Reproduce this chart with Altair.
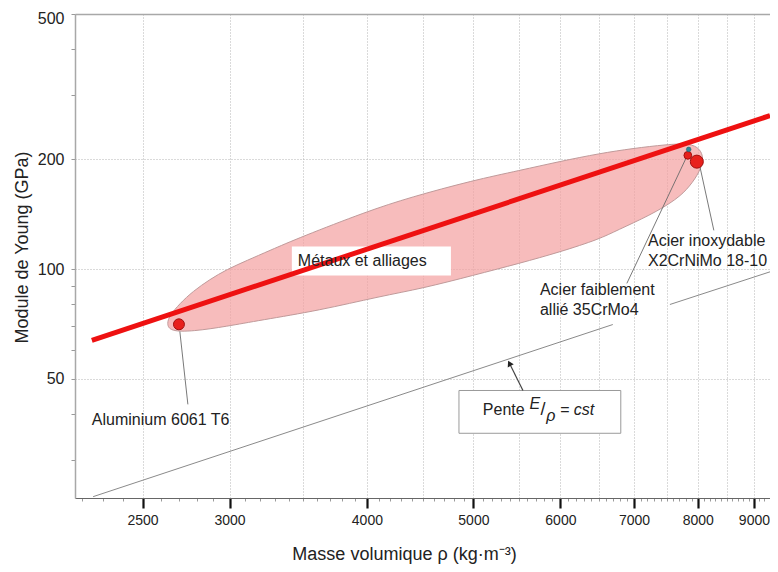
import altair as alt
import pandas as pd

# ---------------- axes ----------------
rho_domain = [2170, 9308]
E_domain = [23.6, 500]
x_major = [2500, 3000, 4000, 5000, 6000, 7000, 8000, 9000]
y_major = [50, 100, 200, 500]
x_ticks = list(range(2200, 9400, 100))
y_ticks = [30, 40, 50, 60, 70, 80, 90, 100, 200, 300, 400, 500]

# ---------------- data ----------------
# "Métaux et alliages" bubble outline
ell_rho = [2630, 2647, 2703, 2778, 2878, 2983, 3111, 3264, 3476, 4000, 4377, 4995,
           5512, 5994, 6518, 6983, 7500, 7869, 8036, 8104, 8036, 7869, 7658, 7236,
           6753, 6518, 5994, 5512, 4995, 4498, 4110, 3624, 3196, 2983, 2778, 2647]
ell_E = [71.0, 74.7, 80.5, 86.9, 93.7, 99.8, 105.6, 112.5, 122.1, 143.9, 157.2, 175.0,
         186.4, 197.3, 207.5, 214.1, 219.6, 221.0, 214.1, 201.0, 185.3, 168.5, 155.3, 140.3,
         127.7, 121.0, 111.4, 103.8, 96.1, 88.6, 84.2, 77.1, 72.4, 69.7, 67.5, 67.5]

# red trend line
fit_rho = [2248, 9308]
fit_E = [63.8, 263.4]

# thin line E/rho = cst (interrupted behind a label)
pente_rho = [2254, 6696, 7547, 9308]
pente_E = [23.8, 70.5, 80.0, 98.3]
pente_seg = [1, 1, 2, 2]

# materials
mat_name = ["Aluminium 6061 T6", "Acier faiblement allié 35CrMo4",
            "Acier faiblement allié 35CrMo4 (2)", "Acier inoxydable X2CrNiMo 18-10"]
mat_rho = [2698, 7836, 7850, 7985]
mat_E = [70.6, 205.0, 212.8, 197.0]

# leader lines
lead_rho1 = [2703, 7820, 8036]
lead_E1 = [67.5, 203.6, 191.2]
lead_rho2 = [2749, 6896, 8275]
lead_E2 = [42.6, 91.4, 127.7]

# arrow toward the E/rho line
arrow_rho1 = [5547]
arrow_E1 = [46.5]
arrow_rho2 = [5392]
arrow_E2 = [55.2]

# labels
lab_text = ["Aluminium 6061 T6", "Acier faiblement", "allié 35CrMo4",
            "Acier inoxydable", "X2CrNiMo 18-10", "Métaux et alliages", "Pente"]
lab_rho = [2248, 5748, 5748, 7208, 7208, 3461, 5100]
lab_E = [38.5, 87.4, 77.1, 119.1, 105.0, 105.0, 41.0]

# pieces of the slope label "E/ρ = cst"
frac_text = ["E", "/", "ρ", "= cst"]
frac_rho = [5688, 5784, 5882, 5994]
frac_E = [42.6, 41.0, 39.7, 41.0]

# boxes
box_rho1 = [3418, 4851]
box_rho2 = [4770, 6809]
box_E1 = [96.1, 35.5]
box_E2 = [115.4, 46.5]

# ---------------- frames ----------------
ell = pd.DataFrame({"rho": ell_rho, "E": ell_E, "i": range(len(ell_rho))})
fit = pd.DataFrame({"rho": fit_rho, "E": fit_E})
pente = pd.DataFrame({"rho": pente_rho, "E": pente_E, "seg": pente_seg})
mat = pd.DataFrame({"name": mat_name, "rho": mat_rho, "E": mat_E})
lead = pd.DataFrame({"rho": lead_rho1, "E": lead_E1, "rho2": lead_rho2, "E2": lead_E2})
arrow = pd.DataFrame({"rho": arrow_rho1, "E": arrow_E1, "rho2": arrow_rho2, "E2": arrow_E2})
labs = pd.DataFrame({"t": lab_text, "rho": lab_rho, "E": lab_E})
frac = pd.DataFrame({"t": frac_text, "rho": frac_rho, "E": frac_E})
boxes = pd.DataFrame({"rho": box_rho1, "rho2": box_rho2, "E": box_E1, "E2": box_E2,
                      "framed": [0, 1]})

FONT = "Liberation Sans"
xs = alt.Scale(type="log", domain=rho_domain, nice=False, zero=False)
ys = alt.Scale(type="log", domain=E_domain, nice=False, zero=False)

major_test = "indexof([" + ",".join(str(v) for v in x_major) + "], datum.value) >= 0"
ymajor_test = "indexof([" + ",".join(str(v) for v in y_major) + "], datum.value) >= 0"

x_axis = alt.Axis(
    orient="bottom",
    values=x_ticks, format="d",
    labelExpr=f"{major_test} ? datum.label : ''",
    labelFont=FONT, labelFontSize=14, labelColor="#222", labelPadding=5,
    tickSize=10,
    tickWidth={"condition": {"test": major_test, "value": 2.2}, "value": 1},
    tickColor={"condition": {"test": major_test, "value": "#111"}, "value": "#9a9a9a"},
    tickDash={"condition": {"test": major_test, "value": [10, 0]}, "value": [3, 20]},
    grid=True, gridColor="#b4b4b4", gridDash=[1, 2], gridWidth=1,
    gridOpacity={"condition": {"test": "datum.value % 500 === 0", "value": 1}, "value": 0},
    domainColor="#666", domainWidth=1,
    title="Masse volumique ρ (kg·m⁻³)", titleFont=FONT, titleFontSize=18,
    titleFontWeight="normal", titleColor="#222",
    titleX=329, titleY=56, titleBaseline="middle", titleAlign="center",
    labelFlush=False, labelOverlap=False,
)
x_top = alt.Axis(orient="top", labels=False, ticks=False, grid=False,
                 domainColor="#a8a8a8", domainWidth=1.5, title="")

y_axis = alt.Axis(
    orient="left",
    values=y_ticks, format="d",
    labelExpr=f"{ymajor_test} ? datum.label : ''",
    labelFont=FONT, labelFontSize=16, labelColor="#222", labelPadding=7,
    labelFlush=True, labelFlushOffset=4,
    tickSize=4, tickColor="#999", tickWidth=1,
    grid=True, gridColor="#b4b4b4", gridDash=[1, 2], gridWidth=1,
    gridOpacity={"condition": {"test": "datum.value === 50 || datum.value === 100 || datum.value === 200",
                               "value": 1}, "value": 0},
    domainColor="#a8a8a8", domainWidth=1.5,
    title="Module de Young (GPa)", titleFont=FONT, titleFontSize=18,
    titleFontWeight="normal", titleColor="#222",
    titleX=-53, titleY=233, titleBaseline="middle", titleAlign="center",
    labelOverlap=False,
)


def X(f="rho", ax=None):
    # x axes are independent (bottom + top frame line): other layers draw none
    return alt.X(f"{f}:Q", scale=xs, axis=ax)


def Y(f="E", ax=alt.Undefined):
    # y axis is shared: other layers leave it unspecified so it merges
    return alt.Y(f"{f}:Q", scale=ys, axis=ax)


bubble = alt.Chart(ell).mark_line(
    interpolate="basis-closed", fill="#f4a0a0", fillOpacity=0.7,
    stroke="#c09a9a", strokeWidth=1
).encode(x=X("rho", x_axis), y=Y("E", y_axis), order="i:Q")

box_layer = alt.Chart(boxes).mark_rect(fill="white", stroke="#9a9a9a", strokeWidth=1).encode(
    x=X("rho", x_top), x2="rho2", y=Y(), y2="E2",
    strokeOpacity=alt.condition("datum.framed == 1", alt.value(1), alt.value(0)),
)

pente_line = alt.Chart(pente).mark_line(color="#8a8a8a", strokeWidth=1).encode(
    x=X(), y=Y(), detail="seg:N")

fit_line = alt.Chart(fit).mark_line(color="#ee1111", strokeWidth=5).encode(x=X(), y=Y())

leaders = alt.Chart(lead).mark_rule(color="#6a6a6a", strokeWidth=0.9).encode(
    x=X(), y=Y(), x2="rho2", y2="E2")

arrow_shaft = alt.Chart(arrow).mark_rule(color="#444", strokeWidth=1.2).encode(
    x=X(), y=Y(), x2="rho2", y2="E2")
arrow_head = alt.Chart(arrow).mark_point(
    shape="triangle-up", filled=True, color="#222", size=45, angle=333, opacity=1
).encode(x=X("rho2"), y=Y("E2"))

labels = alt.Chart(labs).mark_text(
    align="left", baseline="middle", font=FONT, fontSize=16, color="#222"
).encode(x=X(), y=Y(), text="t:N")

f_E = alt.Chart(frac.iloc[[0]]).mark_text(font=FONT, fontSize=16, fontStyle="italic",
                                           color="#222", baseline="middle").encode(x=X(), y=Y(), text="t:N")
f_s = alt.Chart(frac.iloc[[1]]).mark_text(font=FONT, fontSize=18, color="#222",
                                           baseline="middle").encode(x=X(), y=Y(), text="t:N")
f_r = alt.Chart(frac.iloc[[2]]).mark_text(font=FONT, fontSize=16, fontStyle="italic",
                                           color="#222", baseline="middle").encode(x=X(), y=Y(), text="t:N")
f_c = alt.Chart(frac.iloc[[3]]).mark_text(font=FONT, fontSize=16, fontStyle="italic",
                                           color="#222", align="left", baseline="middle").encode(x=X(), y=Y(), text="t:N")

m_al = alt.Chart(mat.iloc[[0]]).mark_point(shape="circle", filled=True, size=120, fill="#e8201c",
                                          stroke="#a01010", strokeWidth=1, opacity=1).encode(x=X(), y=Y())
m_35 = alt.Chart(mat.iloc[[1]]).mark_point(shape="circle", filled=True, size=60, fill="#e8201c",
                                          stroke="#a01010", strokeWidth=1, opacity=1).encode(x=X(), y=Y())
m_35b = alt.Chart(mat.iloc[[2]]).mark_point(shape="circle", filled=True, size=22, fill="#2a8a9a",
                                           stroke="#1a5a6a", strokeWidth=0.5, opacity=1).encode(x=X(), y=Y())
m_inox = alt.Chart(mat.iloc[[3]]).mark_point(shape="circle", filled=True, size=170, fill="#e8201c",
                                            stroke="#a01010", strokeWidth=1, opacity=1).encode(x=X(), y=Y())

chart = alt.layer(
    bubble, box_layer, pente_line, leaders, fit_line, arrow_shaft, arrow_head,
    labels, f_E, f_s, f_r, f_c, m_al, m_35, m_35b, m_inox
).properties(
    width=695, height=484,
    autosize=alt.AutoSizeParams(type="none"),
    padding={"left": 67, "top": 6, "right": 0, "bottom": 66},
).configure_view(strokeWidth=0).configure(background="white")

chart.save("out.html", embed_options={"renderer": "svg", "actions": False})
